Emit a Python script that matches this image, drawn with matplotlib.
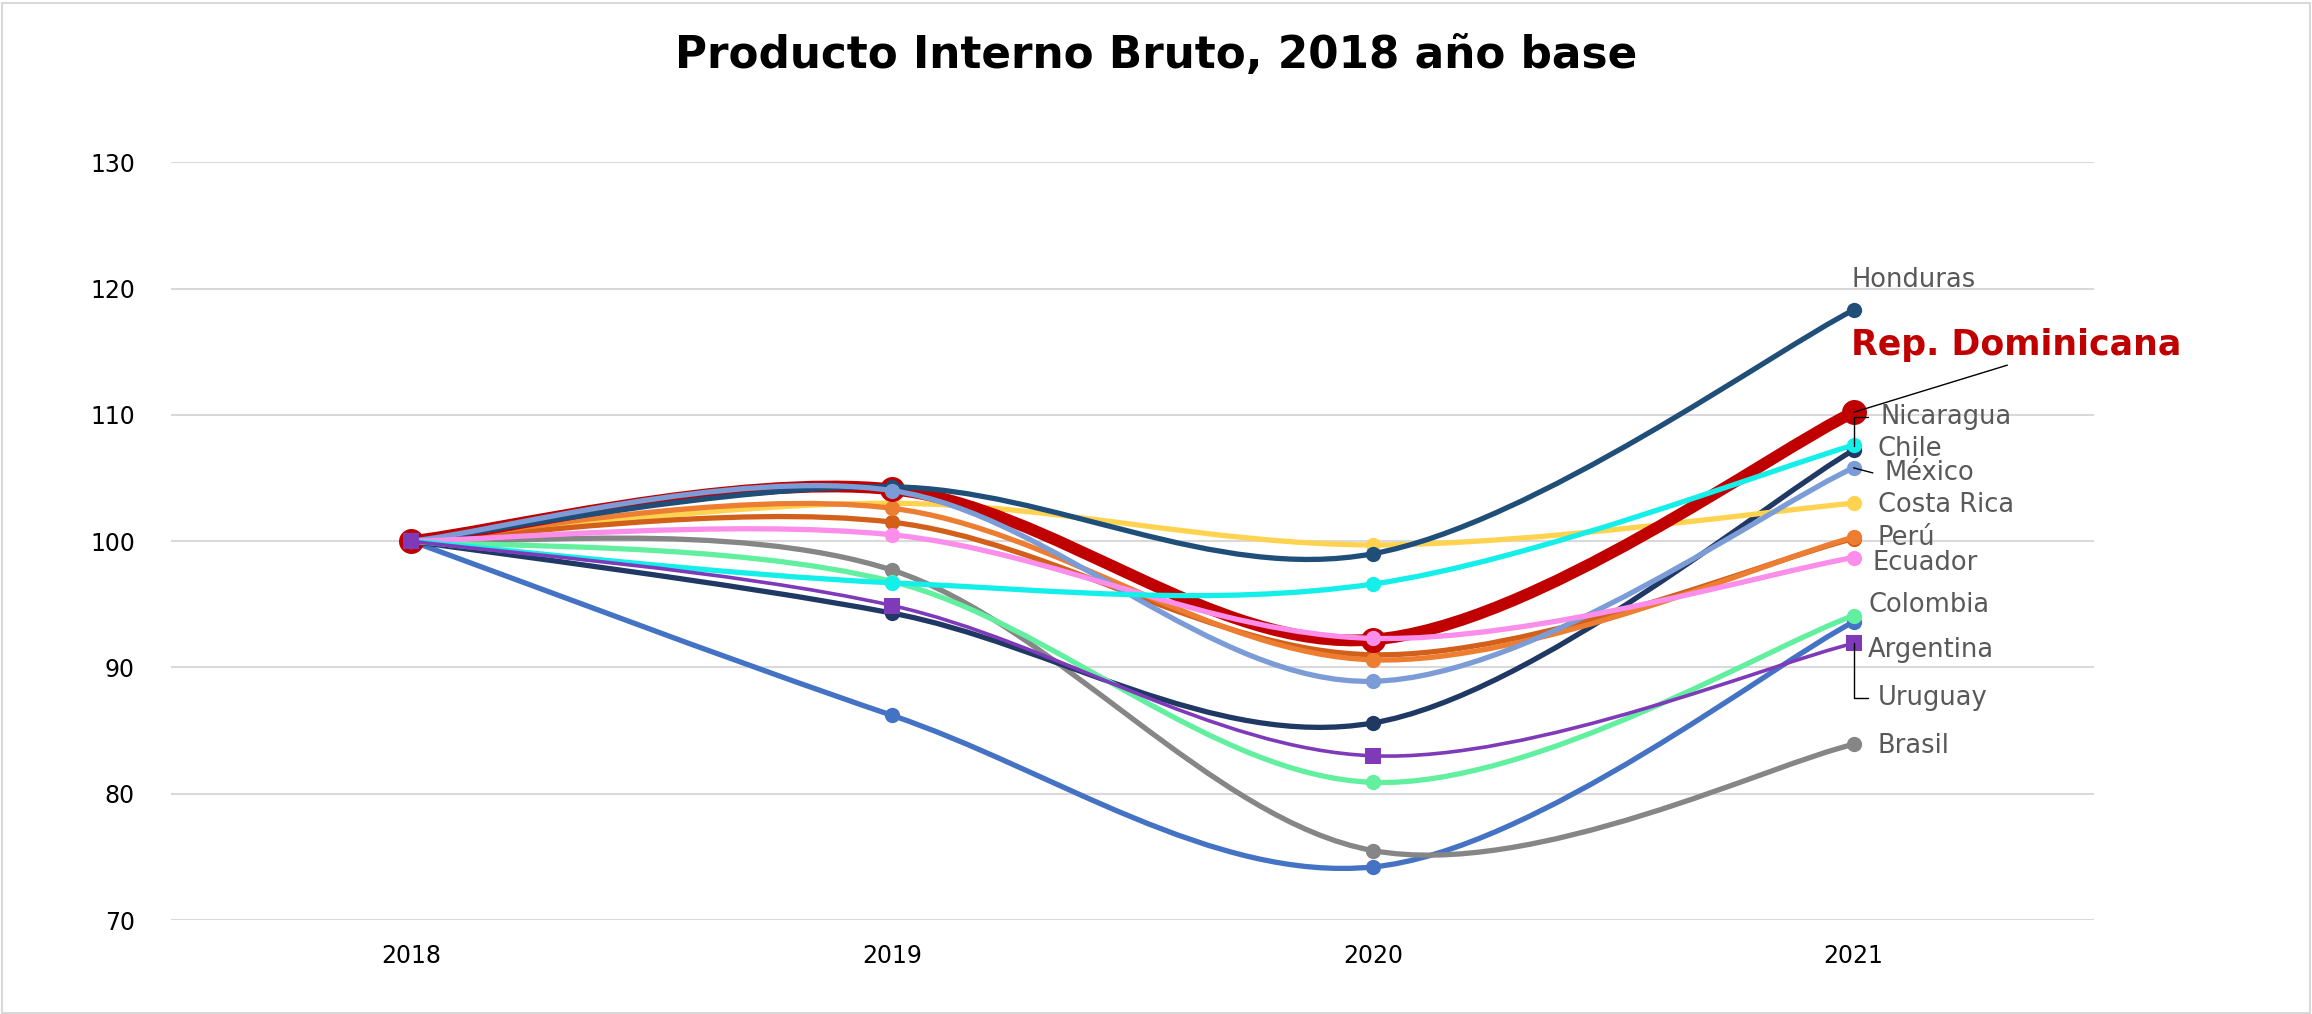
import numpy as np
import matplotlib.pyplot as plt
from matplotlib.path import Path
from matplotlib.patches import PathPatch, Rectangle

plt.rcParams["font.family"] = ["DejaVu Sans"]

# --- Data (índice, 2018 = 100) ---
years = ["2018", "2019", "2020", "2021"]

honduras   = [100, 104.3, 99.0, 118.3]
rep_dom    = [100, 104.1, 92.2, 110.2]
nicaragua  = [100, 94.3, 85.6, 107.2]
chile      = [100, 96.7, 96.6, 107.6]
mexico     = [100, 104.0, 88.9, 105.8]
costa_rica = [100, 103.0, 99.7, 103.0]
peru       = [100, 102.6, 90.6, 100.3]
otro       = [100, 101.5, 91.0, 100.2]
ecuador    = [100, 100.5, 92.3, 98.7]
colombia   = [100, 96.8, 80.9, 94.1]
argentina  = [100, 94.9, 83.0, 91.9]
uruguay    = [100, 86.2, 74.2, 93.6]
brasil     = [100, 97.7, 75.5, 83.9]

# --- Style: (name, values, color, linewidth, marker, markersize), drawn in this order ---
series = [
    ("Uruguay",         uruguay,    "#4472C4", 3.8, "o", 11),
    ("Brasil",          brasil,     "#868686", 3.8, "o", 11),
    ("Nicaragua",       nicaragua,  "#203864", 3.8, "o", 11),
    ("Colombia",        colombia,   "#62F0A0", 3.8, "o", 11),
    ("Costa Rica",      costa_rica, "#FFD350", 3.8, "o", 11),
    ("",                otro,       "#D2601A", 3.8, "o", 11),
    ("Perú",            peru,       "#ED7D31", 3.8, "o", 11),
    ("Rep. Dominicana", rep_dom,    "#C00000", 8.5, "o", 18),
    ("Honduras",        honduras,   "#1F4E79", 3.8, "o", 11),
    ("México",          mexico,     "#7B9CD6", 3.8, "o", 11),
    ("Ecuador",         ecuador,    "#FB8DEB", 3.8, "o", 11),
    ("Chile",           chile,      "#14EFEA", 3.8, "o", 11),
    ("Argentina",       argentina,  "#7E3AB9", 2.6, "s", 12),
]

# label position (x, y in data units) at the right end
labels = {
    "Honduras":   (2.995, 120.7),
    "Nicaragua":  (3.055, 109.8),
    "Chile":      (3.05, 107.3),
    "México":     (3.065, 105.4),
    "Costa Rica": (3.05, 102.85),
    "Perú":       (3.05, 100.25),
    "Ecuador":    (3.04, 98.3),
    "Colombia":   (3.03, 94.95),
    "Argentina":  (3.03, 91.4),
    "Uruguay":    (3.05, 87.6),
    "Brasil":     (3.05, 83.8),
}


def smooth_path(xs, ys):
    # Excel-style smoothed line: cubic Bezier, tangents from neighbouring points
    pts = np.column_stack([xs, ys]).astype(float)
    n = len(pts)
    verts = [pts[0]]
    codes = [Path.MOVETO]
    for i in range(n - 1):
        p_prev = pts[max(i - 1, 0)]
        p_next2 = pts[min(i + 2, n - 1)]
        c1 = pts[i] + (pts[i + 1] - p_prev) / 6
        c2 = pts[i + 1] - (p_next2 - pts[i]) / 6
        verts += [c1, c2, pts[i + 1]]
        codes += [Path.CURVE4] * 3
    return Path(verts, codes)


fig = plt.figure(figsize=(23.12, 10.14), dpi=100)
fig.patches.append(Rectangle((0.001, 0.001), 0.998, 0.996, transform=fig.transFigure,
                             fill=False, edgecolor="#D9D9D9", lw=1.5))
ax = fig.add_axes([0.074, 0.0927, 0.8317, 0.7473])

x = np.arange(len(years))
for i, (name, vals, color, lw, marker, ms) in enumerate(series):
    z = 3 + i
    ax.add_patch(PathPatch(smooth_path(x, vals), fill=False, edgecolor=color, lw=lw,
                           capstyle="round", joinstyle="round", zorder=z))
    ax.plot(x, vals, ls="none", marker=marker, ms=ms, color=color,
            markeredgewidth=0, zorder=z)

ax.set_xlim(-0.5, 3.5)
ax.set_ylim(70, 130)
ax.set_yticks(range(70, 131, 10))
ax.set_xticks(x)
ax.set_xticklabels(years)
ax.grid(axis="y", color="#D9D9D9", lw=1.5, zorder=0)
ax.set_axisbelow(True)
for s in ax.spines.values():
    s.set_visible(False)
ax.tick_params(axis="both", length=0, labelsize=17, labelcolor="#000000")
ax.tick_params(axis="y", pad=26)
ax.tick_params(axis="x", pad=17)

# --- Labels ---
label_style = dict(fontsize=18.5, color="#595959", va="center", ha="left")
for name, (lx, ly) in labels.items():
    ax.text(lx, ly, name, **label_style)

ax.annotate("Rep. Dominicana", xy=(3, rep_dom[-1]), xytext=(2.995, 115.5),
            fontsize=25, fontweight="bold", color="#C00000", va="center", ha="left",
            arrowprops=dict(arrowstyle="-", color="black", lw=1, relpos=(0.5, 0),
                            shrinkA=0, shrinkB=0), zorder=20)
ax.annotate("", xy=(3, nicaragua[-1] + 0.3), xytext=(3.03, 109.8),
            arrowprops=dict(arrowstyle="-", color="black", lw=1, shrinkA=0, shrinkB=0,
                            connectionstyle="angle,angleA=180,angleB=90,rad=0"), zorder=20)
ax.annotate("", xy=(3, mexico[-1]), xytext=(3.04, 105.4),
            arrowprops=dict(arrowstyle="-", color="black", lw=1, shrinkA=0, shrinkB=0),
            zorder=20)
ax.annotate("", xy=(3, argentina[-1]), xytext=(3.03, 87.6),
            arrowprops=dict(arrowstyle="-", color="black", lw=1, shrinkA=0, shrinkB=0,
                            connectionstyle="angle,angleA=180,angleB=90,rad=0"), zorder=20)

fig.suptitle("Producto Interno Bruto, 2018 año base", fontsize=31.5, fontweight="bold",
             y=0.945, va="center")

fig.savefig("out.png", dpi=100)
